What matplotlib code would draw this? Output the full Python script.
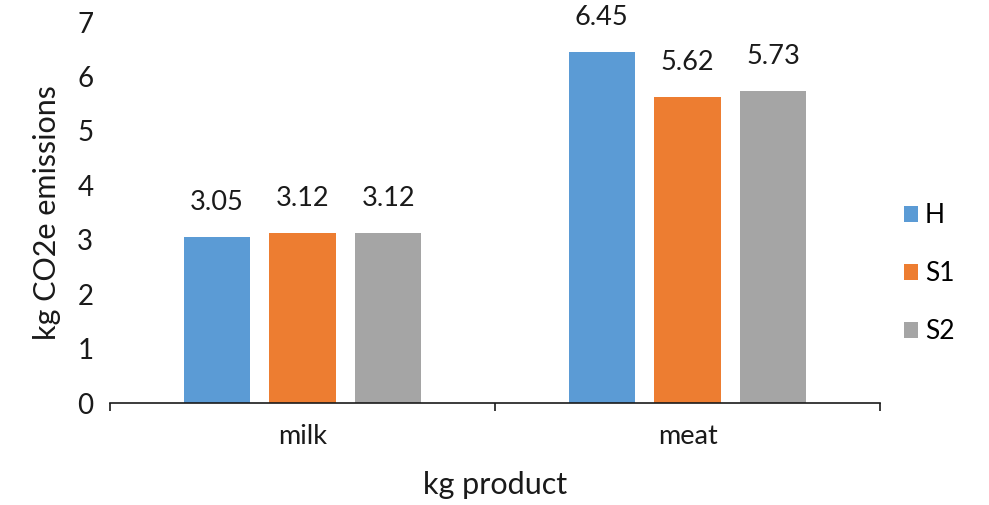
import matplotlib
matplotlib.use("Agg")
import matplotlib.pyplot as plt
import numpy as np

plt.rcParams['font.family'] = ['Lato', 'DejaVu Sans']

# emissions per kg of product for each scenario
products = ["milk", "meat"]
scenarios = ["H", "S1", "S2"]
h_values = [3.05, 6.45]
s1_values = [3.12, 5.62]
s2_values = [3.12, 5.73]
colors = ["#5b9bd5", "#ed7d31", "#a5a5a5"]

fig = plt.figure(figsize=(9.89, 5.05), dpi=100)
ax = fig.add_axes([110 / 989, 1 - 403 / 505, 770 / 989, 381 / 505])

x = np.arange(len(products))
width = 0.172
step = 0.223
series = [h_values, s1_values, s2_values]
for i, (name, vals, c) in enumerate(zip(scenarios, series, colors)):
    bars = ax.bar(x + (i - 1) * step, vals, width, color=c, label=name)
    for b, v in zip(bars, vals):
        ax.annotate(f"{v:.2f}", (b.get_x() + b.get_width() / 2, v),
                    xytext=(0, 25), textcoords="offset points",
                    ha="center", va="center", fontsize=19.5, color="#1a1a1a")

ax.set_xlim(-0.5, 1.5)
ax.set_ylim(0, 7)
ax.set_yticks(range(8))
ax.tick_params(axis="y", length=0, labelsize=20, pad=12, colors="#1a1a1a")

# category boundaries carry the tick marks, labels sit under the centres
ax.set_xticks([-0.5, 0.5, 1.5])
ax.set_xticklabels([])
ax.set_xticks(x, minor=True)
ax.set_xticklabels(products, minor=True)
ax.tick_params(axis="x", which="major", length=6, width=1.2, color="#1a1a1a")
ax.tick_params(axis="x", which="minor", length=0, labelsize=19.5, pad=15, colors="#1a1a1a")

for side in ["left", "right", "top"]:
    ax.spines[side].set_visible(False)
ax.spines["bottom"].set_linewidth(1.2)
ax.spines["bottom"].set_color("#1a1a1a")

ax.set_xlabel("kg product", fontsize=22, labelpad=16, color="#1a1a1a")
ax.set_ylabel("kg CO2e emissions", fontsize=22, labelpad=12, color="#1a1a1a")

ax.legend(loc="center left", bbox_to_anchor=(1.0, 0.34), frameon=False,
          fontsize=19, handlelength=0.55, handleheight=0.55, labelspacing=1.25,
          handletextpad=0.25)

fig.savefig("out.png", dpi=100)
